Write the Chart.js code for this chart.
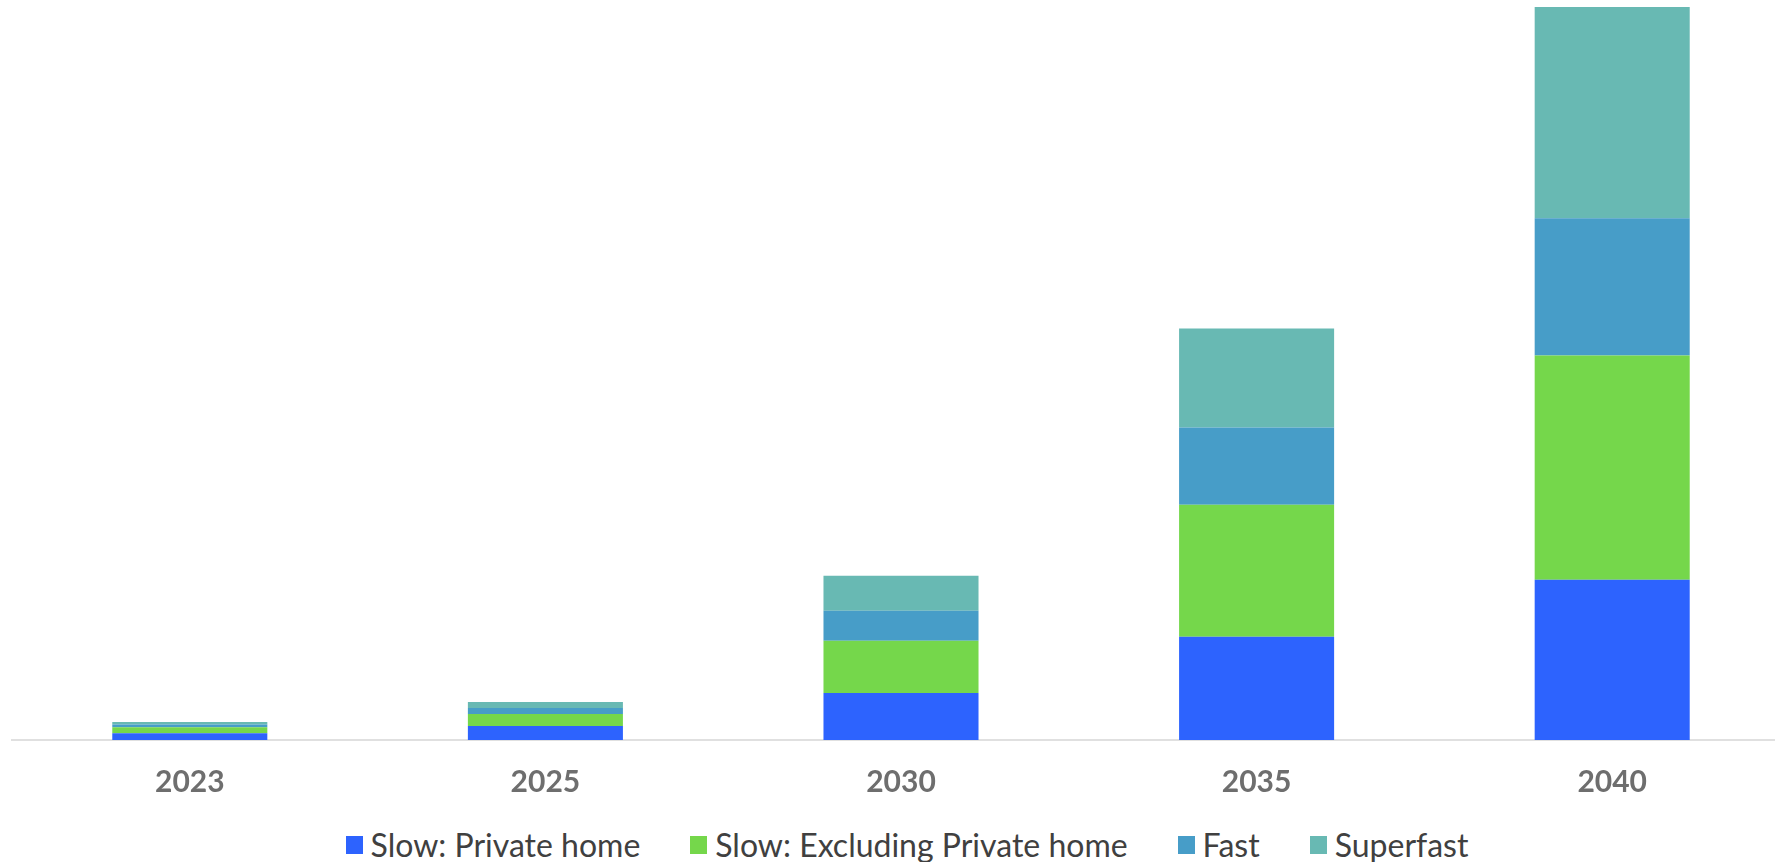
<!DOCTYPE html>
<html>
<head>
<meta charset="utf-8">
<script src="https://cdn.jsdelivr.net/npm/chart.js@4.4.1/dist/chart.umd.min.js"></script>
<style>
    html, body { margin: 0; padding: 0; background: #ffffff; overflow: hidden; }
    #wrap { position: absolute; left: 0; top: 0; width: 1800px; height: 824px; }
    #legend {
        position: absolute; left: 0; top: 825px; width: 1800px; padding-left: 14px; box-sizing: border-box;
        display: flex; justify-content: center; gap: 50px;
        font-family: Lato, sans-serif; font-size: 32px; color: #404040;
    }
    .legend-item { display: flex; align-items: center; }
    .legend-color { width: 17px; height: 18px; margin-right: 8px; }
</style>
</head>
<body>
<div id="wrap"><canvas id="chart"></canvas></div>
<div id="legend"></div>
<script>
const years = ['2023', '2025', '2030', '2035', '2040'];
const seriesNames = ['Slow: Private home', 'Slow: Excluding Private home', 'Fast', 'Superfast'];

// stacked values
const slowPrivate = [6.7, 14, 47, 103, 160];
const slowOther = [6, 12, 52, 132, 224];
const fast = [2.7, 6, 30, 77, 137];
const superfast = [2.7, 6, 35, 99, 211];

const colors = ['#2d63fe', '#75d74b', '#479dc8', '#68b9b3'];

const seriesData = [slowPrivate, slowOther, fast, superfast];

new Chart(document.getElementById('chart'), {
    type: 'bar',
    data: {
        labels: years,
        datasets: seriesNames.map((name, i) => ({
            label: name,
            data: seriesData[i],
            backgroundColor: colors[i],
            borderWidth: 0,
            categoryPercentage: 1,
            barPercentage: 0.436
        }))
    },
    options: {
        responsive: true,
        maintainAspectRatio: false,
        animation: false,
        layout: { padding: { left: 12, right: 10, top: 0, bottom: 0 } },
        plugins: {
            legend: { display: false },
            tooltip: { enabled: false }
        },
        scales: {
            x: {
                stacked: true,
                grid: { display: false, drawTicks: false },
                border: { display: true, color: '#e0e0e0', width: 2 },
                ticks: {
                    color: '#6e6e6e',
                    padding: 24,
                    font: { family: 'Lato', size: 30, weight: 'bold' }
                }
            },
            y: {
                stacked: true,
                display: false,
                min: 0,
                max: 739
            }
        }
    }
});

// html legend under the chart
const legendContainer = document.getElementById('legend');
seriesNames.forEach((name, index) => {
    const legendItem = document.createElement('div');
    legendItem.className = 'legend-item';

    const legendColor = document.createElement('div');
    legendColor.className = 'legend-color';
    legendColor.style.backgroundColor = colors[index];

    const legendText = document.createElement('div');
    legendText.textContent = name;

    legendItem.appendChild(legendColor);
    legendItem.appendChild(legendText);
    legendContainer.appendChild(legendItem);
});
</script>
</body>
</html>
